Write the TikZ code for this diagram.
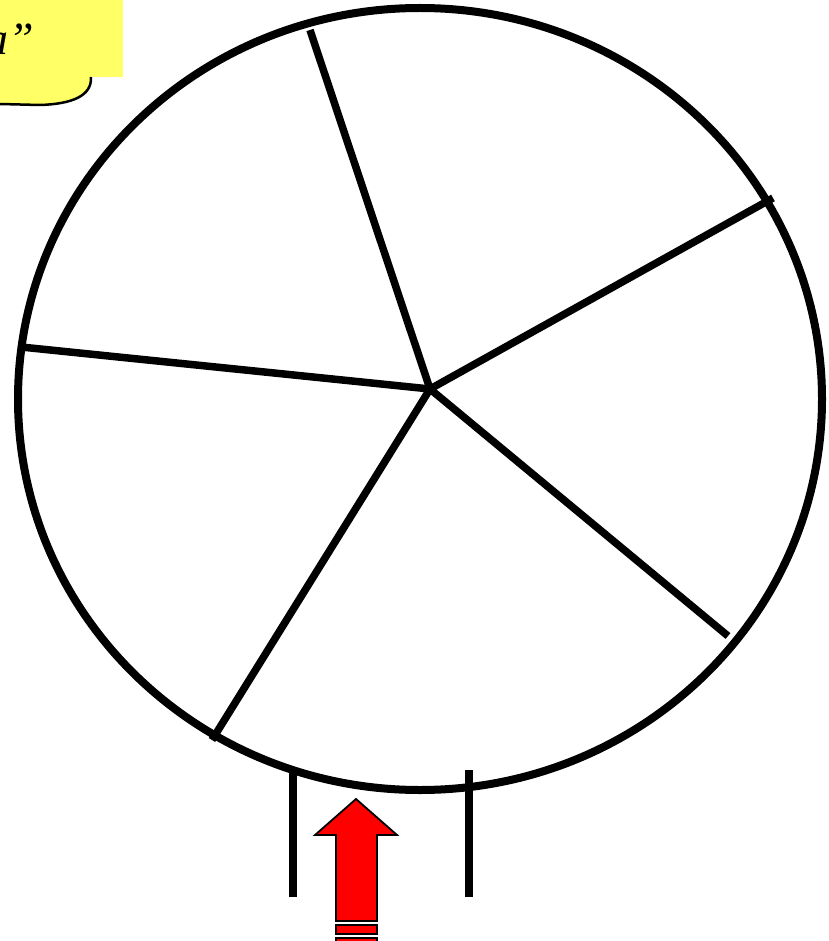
\documentclass[tikz,border=0pt]{standalone}
\usepackage{fontspec}
\setmainfont{Liberation Serif}
\usepackage{xcolor}
\usetikzlibrary{positioning}
\definecolor{NoteYellow}{HTML}{FFFF66}
\definecolor{ArrowRed}{HTML}{FF0000}

\begin{document}
\begin{tikzpicture}[
  x=1pt,y=-1pt,
  rim/.style={line width=8pt},
  spoke/.style={line width=7.5pt},
  post/.style={line width=7.5pt},
  note/.style={fill=NoteYellow,draw=none},
  pointer/.style={fill=ArrowRed,draw=black,line width=1.8pt,line join=miter}
]
  \useasboundingbox (0,0) rectangle (828,941);
  % callout in the corner
  \fill[note] (0,0) rectangle (123,77);
  \fill[note] (0,76) -- (92,76) .. controls (92,96) and (72,104) .. (40,105) -- (0,104) -- cycle;
  \draw[line width=2.5pt] (91,77) .. controls (92,96) and (72,104) .. (40,105) -- (0,104);
  \node[anchor=base east,font=\itshape\fontsize{46}{50}\selectfont,inner sep=0pt] (quote) at (34,55) {a”};
  % wheel
  \coordinate (hub) at (430,389);
  \coordinate (s1) at (310,30);
  \coordinate (s2) at (773,198);
  \coordinate (s3) at (728,636);
  \coordinate (s4) at (212,740);
  \coordinate (s5) at (21,347);
  \draw[rim] (420,399) ellipse [x radius=402, y radius=391];
  \foreach \s in {s1,s2,s3,s4,s5}
    \draw[spoke] (hub) -- (\s);
  % posts and arrow below
  \coordinate (pl) at (293,770);
  \coordinate (pr) at (469,770);
  \draw[post] (pl) -- ++(0,127);
  \draw[post] (pr) -- ++(0,127);
  \draw[pointer] (356,799) -- (397,835) -- (377,835) -- (377,921) -- (336,921)
    -- (336,835) -- (315,835) -- cycle;
  \draw[pointer] (336,925) rectangle (377,934);
  \draw[pointer] (336,938) rectangle (377,946);
\end{tikzpicture}
\end{document}
